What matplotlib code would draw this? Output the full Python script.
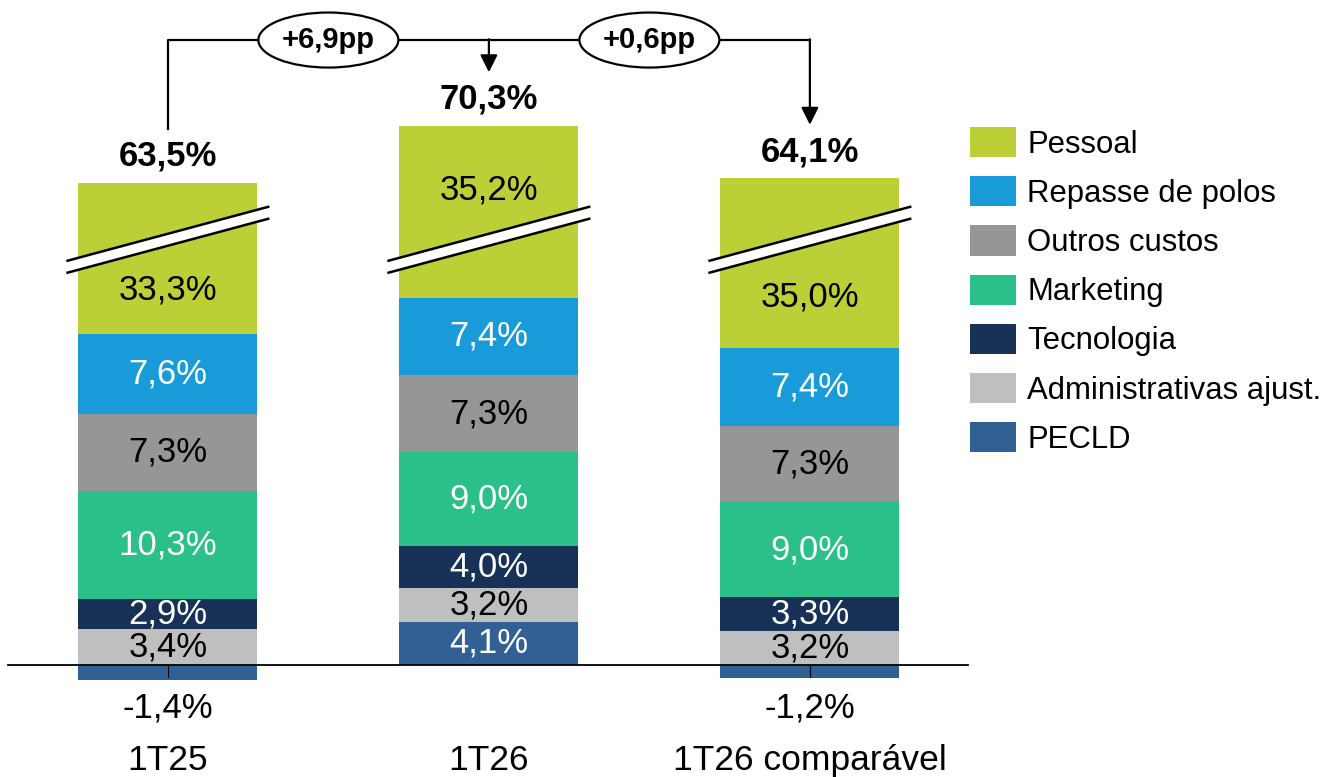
import matplotlib.pyplot as plt
from matplotlib.patches import Ellipse, Polygon
import numpy as np

plt.rcParams['font.family'] = ['Liberation Sans', 'DejaVu Sans']

# data
periods = ['1T25', '1T26', '1T26 comparável']
pessoal = [33.3, 35.2, 35.0]
repasse = [7.6, 7.4, 7.4]
outros = [7.3, 7.3, 7.3]
marketing = [10.3, 9.0, 9.0]
tecnologia = [2.9, 4.0, 3.3]
administrativas = [3.4, 3.2, 3.2]
pecld = [-1.4, 4.1, -1.2]
totals = ['63,5%', '70,3%', '64,1%']
deltas = ['+6,9pp', '+0,6pp']

names = ['Pessoal', 'Repasse de polos', 'Outros custos', 'Marketing',
         'Tecnologia', 'Administrativas ajust.', 'PECLD']
colors = ['#BDCF36', '#199BD9', '#969696', '#2BBF89',
          '#183156', '#BFBFBF', '#316094']
white_txt = [False, True, False, True, True, False, True]

CUT = 18.85      # hidden part of the Pessoal segment (broken bar)
BREAK_Y = 40.5   # centre of the break marks
W = 0.557

def fmt(v):
    return f'{v:.1f}%'.replace('.', ',')

fig = plt.figure(figsize=(13.27, 7.77), dpi=100)
ax = fig.add_axes([0, 0, 1, 1])
ax.set_xlim(-0.523, -0.523 + 1327 / 321)
ax.set_ylim(-112 / 10.5, 665 / 10.5)
ax.axis('off')

x = np.arange(len(periods))
# stack from the bottom: pecld, admin, tec, marketing, outros, repasse, pessoal
stack = [pecld, administrativas, tecnologia, marketing, outros, repasse, pessoal]
stack_names = names[::-1]
stack_colors = colors[::-1]
stack_white = white_txt[::-1]

handles = {}
pos_base = np.zeros(len(periods))
for vals, nm, col, wt in zip(stack, stack_names, stack_colors, stack_white):
    vals = np.array(vals, dtype=float)
    shown = vals - CUT if nm == 'Pessoal' else vals
    bottoms = np.where(vals < 0, 0, pos_base)
    b = ax.bar(x, shown, W, bottom=bottoms, color=col, zorder=2)
    handles[nm] = b
    for i, v in enumerate(vals):
        if v < 0:
            ax.plot([x[i], x[i]], [0, -1.15], color='black', lw=0.8, zorder=3)
            ax.text(x[i], -4.1, fmt(v), ha='center', va='center',
                    fontsize=25, color='black')
            continue
        if nm == 'Pessoal':
            lo, hi = pos_base[i], pos_base[i] + shown[i]
            if i == 1:
                yc = (BREAK_Y + 0.6 + hi) / 2 - 1.0
            else:
                yc = (lo + BREAK_Y - 0.6) / 2
        else:
            yc = pos_base[i] + v / 2
        ax.text(x[i], yc, fmt(v), ha='center', va='center', fontsize=25,
                color='white' if wt else 'black', zorder=4)
    pos_base = pos_base + np.where(vals > 0, shown, 0)
tops = pos_base

# break marks
dx = W / 2 + 0.034
slope = 5.14 / 0.626
th = 1.14
for xi in x:
    xs = np.array([xi - dx, xi + dx])
    ys = BREAK_Y + (xs - xi) * slope
    poly = Polygon([[xs[0], ys[0] - th / 2], [xs[1], ys[1] - th / 2],
                    [xs[1], ys[1] + th / 2], [xs[0], ys[0] + th / 2]],
                   closed=True, facecolor='white', edgecolor='none', zorder=5)
    ax.add_patch(poly)
    ax.plot(xs, ys + th / 2, color='black', lw=1.8, zorder=6)
    ax.plot(xs, ys - th / 2, color='black', lw=1.8, zorder=6)

# totals
for xi, t, top in zip(x, totals, tops):
    ax.text(xi, top + 2.55, t, ha='center', va='center', fontsize=25,
            fontweight='bold')

# baseline
ax.plot([-0.498, 2.492], [0, 0], color='black', lw=1.3, zorder=7)

# category labels
for xi, p in zip(x, periods):
    ax.text(xi, -9.1, p, ha='center', va='center', fontsize=25.5)

# connectors
line_y = 59.52
gap = 5.1
ax.plot([x[0], x[0], x[2]], [tops[0] + gap, line_y, line_y],
        color='black', lw=1.6, zorder=1)
for xi in (x[1], x[2]):
    ax.annotate('', xy=(xi, tops[xi] + gap), xytext=(xi, line_y + 0.07),
                arrowprops=dict(arrowstyle='-|>', color='black', lw=1.6,
                                mutation_scale=26, shrinkA=0, shrinkB=0))
for xc, d in zip([0.5, 1.5], deltas):
    ax.add_patch(Ellipse((xc, line_y), 0.436, 5.24, facecolor='white',
                         edgecolor='black', lw=1.6, zorder=8))
    ax.text(xc, line_y, d, ha='center', va='center', fontsize=21,
            fontweight='bold', zorder=9)

# legend
leg = ax.legend([handles[n] for n in names], names, loc='upper left',
                bbox_to_anchor=(970 / 1327, 1 - 127 / 777),
                bbox_transform=fig.transFigure, frameon=False, fontsize=22.4,
                handlelength=1.48, handleheight=1.12, handletextpad=0.36,
                labelspacing=0.53, borderpad=0, borderaxespad=0)

fig.savefig('out.png', dpi=100)
